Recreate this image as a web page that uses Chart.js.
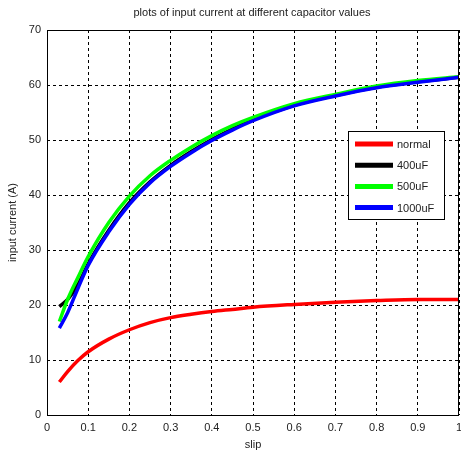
<!DOCTYPE html>
<html>
<head>
<meta charset="utf-8">
<script src="https://cdn.jsdelivr.net/npm/chart.js@4.4.1/dist/chart.umd.min.js"></script>
<style>
  html, body { margin: 0; padding: 0; background: #fff; }
  #wrap { width: 461px; height: 453px; }
</style>
</head>
<body>
<div id="wrap"><canvas id="chart" width="461" height="453"></canvas></div>
<script>
// data
const slip = [0.03, 0.05, 0.075, 0.1, 0.15, 0.2, 0.25, 0.3, 0.35, 0.4, 0.45, 0.5, 0.6, 0.7, 0.8, 0.9, 1.0];
const normal  = [6.0, 7.9, 9.9, 11.5, 13.8, 15.5, 16.8, 17.7, 18.3, 18.8, 19.2, 19.6, 20.1, 20.5, 20.8, 21.0, 21.0];
const cap400  = [19.7, 21.0, 23.7, 27.5, 33.6, 38.6, 42.4, 45.4, 47.9, 50.1, 52.0, 53.7, 56.3, 58.1, 59.6, 60.6, 61.4];
const cap500  = [17.0, 21.0, 25.0, 28.8, 35.0, 39.8, 43.5, 46.3, 48.7, 50.8, 52.6, 54.1, 56.6, 58.3, 59.8, 60.8, 61.5];
const cap1000 = [15.8, 18.6, 23.0, 27.2, 33.3, 38.3, 42.2, 45.2, 47.7, 49.9, 51.8, 53.5, 56.2, 58.0, 59.5, 60.5, 61.4];
const xTicks = [0, 0.1, 0.2, 0.3, 0.4, 0.5, 0.6, 0.7, 0.8, 0.9, 1];

const FONT = 'Liberation Sans, Arial, sans-serif';

function pts(ys) {
    return slip.map((s, i) => ({ x: s, y: ys[i] }));
}

// frame, title and the boxed legend inside the plot
const extras = {
    id: 'extras',
    afterDraw(chart) {
        const c = chart.ctx;
        const a = chart.chartArea;
        c.save();
        c.strokeStyle = '#000';
        c.lineWidth = 1;
        c.setLineDash([]);
        c.strokeRect(a.left + 0.5, a.top + 0.5, a.right - a.left - 1, a.bottom - a.top);

        c.fillStyle = '#222';
        c.font = '11px ' + FONT;
        c.textAlign = 'center';
        c.textBaseline = 'middle';
        c.fillText('plots of input current at different capacitor values', 252, 13);

        // legend box
        const bx = 348, by = 131, bw = 96, bh = 88;
        c.fillStyle = '#fff';
        c.fillRect(bx, by, bw, bh);
        c.strokeRect(bx + 0.5, by + 0.5, bw, bh);
        chart.data.datasets.forEach((ds, i) => {
            const y = 144 + i * 21.2;
            c.strokeStyle = ds.borderColor;
            c.lineWidth = 5;
            c.beginPath();
            c.moveTo(355, y);
            c.lineTo(393, y);
            c.stroke();
            c.fillStyle = '#222';
            c.textAlign = 'left';
            c.fillText(ds.label, 397, y + 1);
        });
        c.restore();
    }
};

new Chart(document.getElementById('chart'), {
    type: 'line',
    data: {
        datasets: [
            { label: 'normal', data: pts(normal), borderColor: '#ff0000', order: 3 },
            { label: '400uF', data: pts(cap400), borderColor: '#000000', order: 2 },
            { label: '500uF', data: pts(cap500), borderColor: '#00ff00', order: 1 },
            { label: '1000uF', data: pts(cap1000), borderColor: '#0000ff', order: 0 }
        ]
    },
    options: {
        responsive: false,
        animation: false,
        layout: { padding: { top: 30, right: 2, left: 0, bottom: 0 } },
        elements: {
            point: { radius: 0 },
            line: { borderWidth: 3.5, tension: 0.4, cubicInterpolationMode: 'monotone' }
        },
        plugins: {
            legend: { display: false },
            tooltip: { enabled: false }
        },
        scales: {
            x: {
                type: 'linear',
                min: 0,
                max: 1,
                afterBuildTicks(s) { s.ticks = xTicks.map(v => ({ value: v })); },
                afterFit(s) { s.height = 38; s.paddingLeft = 0; s.paddingRight = 0; },
                ticks: {
                    color: '#222',
                    font: { family: FONT, size: 11 },
                    padding: 6,
                    maxRotation: 0,
                    callback: v => String(v)
                },
                grid: { color: '#000', drawTicks: false },
                border: { display: false, dash: [3, 3] },
                title: {
                    display: true,
                    text: 'slip',
                    color: '#222',
                    font: { family: FONT, size: 11 },
                    padding: { top: 0, bottom: 1 }
                }
            },
            y: {
                min: 0,
                max: 70,
                afterFit(s) { s.width = 47; s.paddingTop = 0; s.paddingBottom = 0; },
                ticks: {
                    stepSize: 10,
                    color: '#222',
                    font: { family: FONT, size: 11 },
                    padding: 6
                },
                grid: { color: '#000', drawTicks: false },
                border: { display: false, dash: [3, 3] },
                title: {
                    display: true,
                    text: 'input current (A)',
                    color: '#222',
                    font: { family: FONT, size: 11 },
                    padding: { top: 6, bottom: 0 }
                }
            }
        }
    },
    plugins: [extras]
});
</script>
</body>
</html>
